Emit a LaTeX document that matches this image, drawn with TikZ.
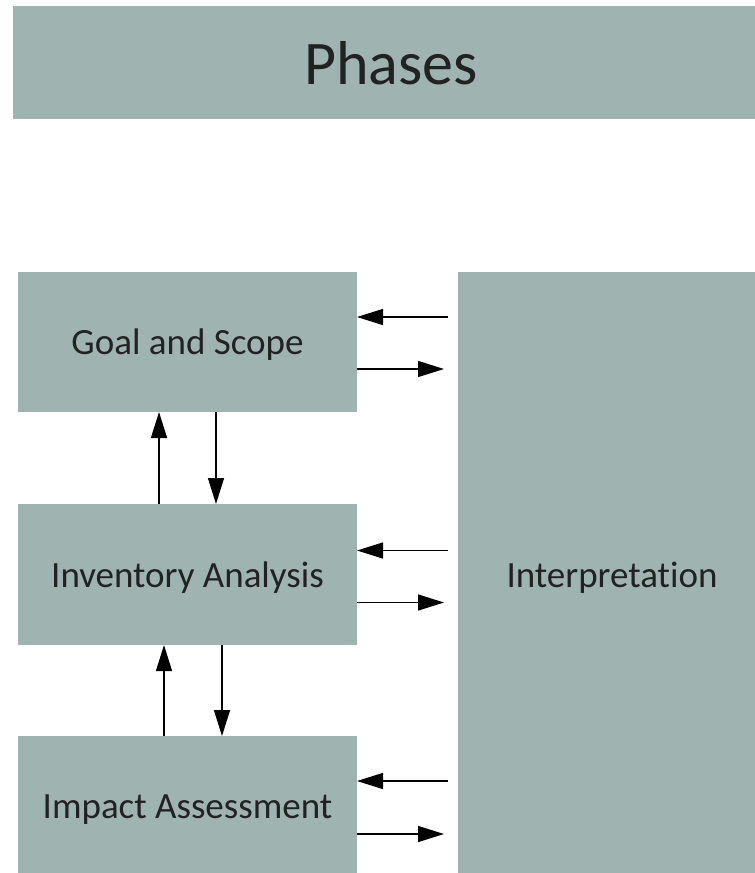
\documentclass[tikz,border=0pt]{standalone}
\usepackage{fontspec}
\setmainfont[Ligatures=NoCommon]{Carlito}
\usetikzlibrary{arrows.meta,calc}
\definecolor{phasefill}{HTML}{9FB4B1}
\definecolor{labelink}{HTML}{222222}

\begin{document}
\begin{tikzpicture}[x=1pt,y=-1pt,
   phase/.style={fill=phasefill,anchor=north west,inner sep=0pt,outer sep=0pt,
      text=labelink,text depth=0pt,font=\fontsize{37}{40}\selectfont},
   flow/.style={line width=1.3pt,-{Triangle[length=26pt,width=16pt]}}]
   \useasboundingbox (0,0) rectangle (755,873);
   \node[phase,minimum width=756pt,minimum height=113pt,
      font=\fontsize{62}{66}\selectfont] (phases) at (13,6) {Phases};
   \node[phase,minimum width=339pt,minimum height=140pt] (goal) at (18,272) {Goal and Scope};
   \node[phase,minimum width=339pt,minimum height=141pt] (inventory) at (18,504) {Inventory Analysis};
   \node[phase,minimum width=339pt,minimum height=142pt] (impact) at (18,736) {Impact Assessment};
   \node[phase,minimum width=308pt,minimum height=606pt] (interp) at (458,272) {Interpretation};
   % feedback to and from interpretation
   \foreach \stage/\up/\down in {goal/-25/27,inventory/-24/28,impact/-26/27} {
      \draw[flow] ($(interp.west |- \stage.east)+(-10,\up)$) -- ($(\stage.east)+(0,\up)$);
      \draw[flow] ($(\stage.east)+(0,\down)$) -- ($(interp.west |- \stage.east)+(-14,\down)$);
   }
   % up and down the chain
   \draw[flow] ([xshift=141pt]inventory.north west) -- ([xshift=141pt]goal.south west);
   \draw[flow] ([xshift=198pt]goal.south west) -- ([xshift=198pt]inventory.north west);
   \draw[flow] ([xshift=146pt]impact.north west) -- ([xshift=146pt]inventory.south west);
   \draw[flow] ([xshift=204pt]inventory.south west) -- ([xshift=204pt]impact.north west);
 \end{tikzpicture}
\end{document}
